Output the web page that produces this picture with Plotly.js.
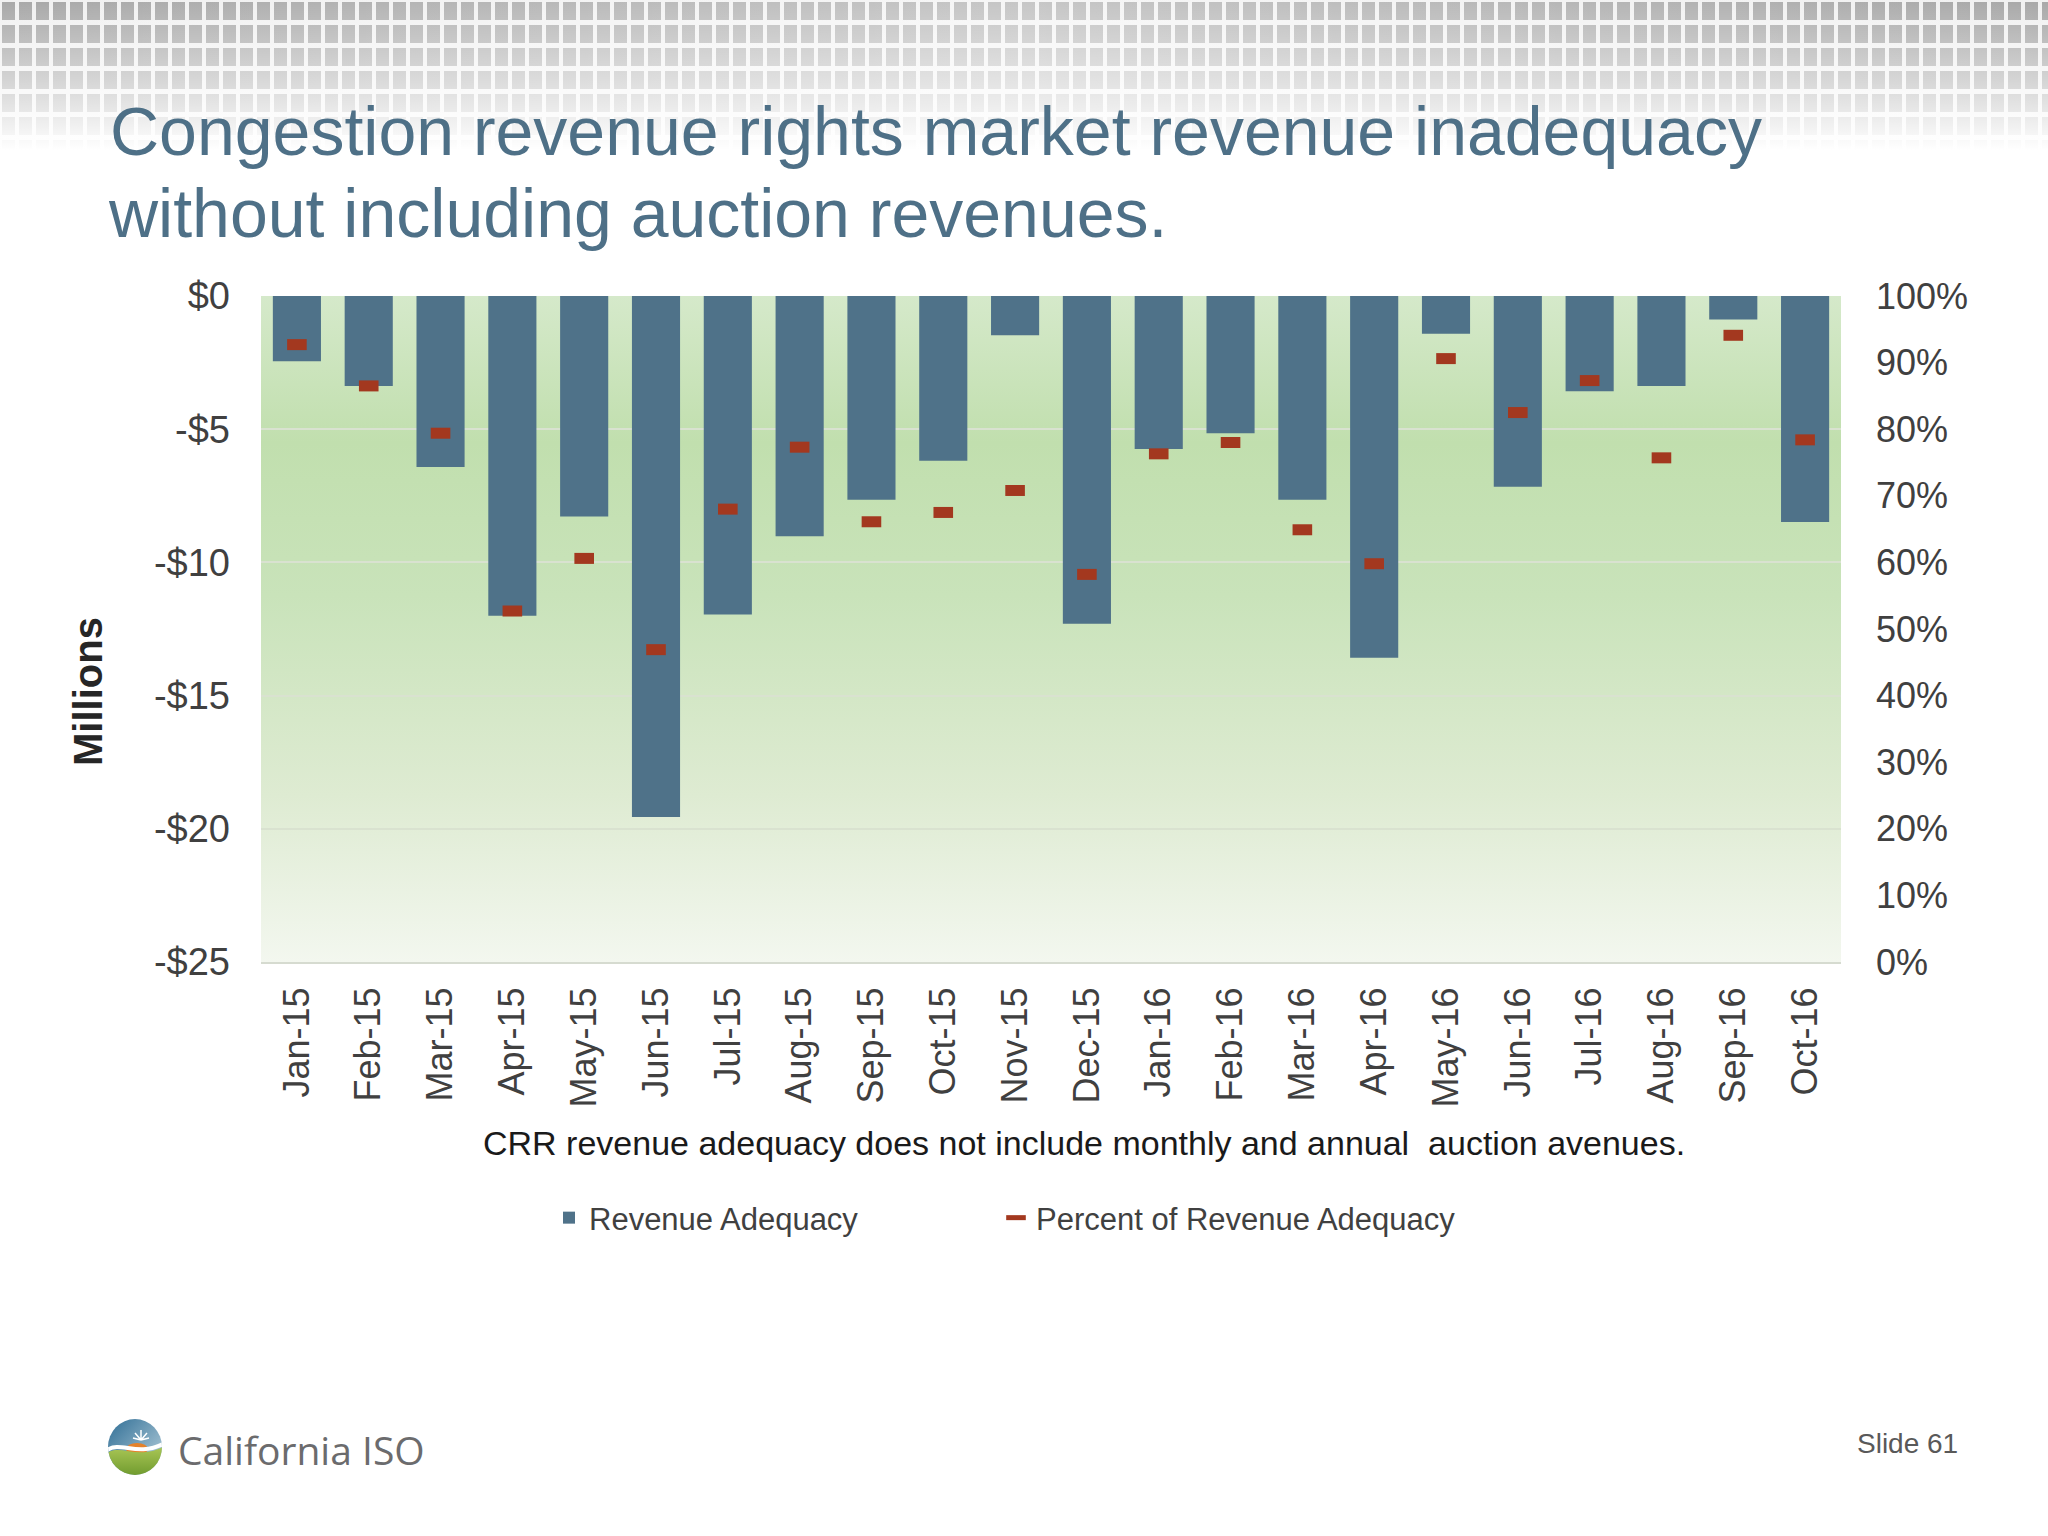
<!DOCTYPE html>
<html>
<head>
<meta charset="utf-8">
<script src="https://cdn.plot.ly/plotly-3.0.1.min.js"></script>
<style>html,body{margin:0;padding:0;background:#fff;}#chart{width:2048px;height:1536px;}</style>
</head>
<body>
<div id="chart"></div>
<script>
// ---- Data ----
var months = ['Jan-15','Feb-15','Mar-15','Apr-15','May-15','Jun-15','Jul-15','Aug-15','Sep-15','Oct-15','Nov-15','Dec-15',
              'Jan-16','Feb-16','Mar-16','Apr-16','May-16','Jun-16','Jul-16','Aug-16','Sep-16','Oct-16'];
// Revenue adequacy, $ millions
var revenueAdequacy = [-2.45,-3.38,-6.42,-12.0,-8.28,-19.56,-11.96,-9.02,-7.65,-6.18,-1.47,-12.3,
                       -5.74,-5.15,-7.65,-13.58,-1.42,-7.16,-3.58,-3.38,-0.88,-8.48];
// Percent of revenue adequacy, %
var percentAdequacy = [92.7,86.5,79.4,52.7,60.6,46.9,68.0,77.3,66.1,67.5,70.8,58.2,
                       76.3,78.0,64.9,59.8,90.6,82.5,87.3,75.7,94.1,78.4];
var leftTickVals = [0,-5,-10,-15,-20,-25];
var leftTickText = ['$0','-$5','-$10','-$15','-$20','-$25'];
var rightTickVals = [0,0.1,0.2,0.3,0.4,0.5,0.6,0.7,0.8,0.9,1.0];

var FONT = 'Liberation Sans, Arial, Helvetica, sans-serif';

function svgUri(s){ return 'data:image/svg+xml;charset=utf-8,' + encodeURIComponent(s); }

var bgSvg = "<svg xmlns='http://www.w3.org/2000/svg' width='100' height='100' viewBox='0 0 100 100' preserveAspectRatio='none'>" +
  "<defs><linearGradient id='g' x1='0' y1='0' x2='0' y2='1'>" +
  "<stop offset='0' stop-color='#d5e9ca'/><stop offset='0.22' stop-color='#c1dfae'/>" +
  "<stop offset='0.45' stop-color='#c9e3ba'/><stop offset='0.75' stop-color='#deebd2'/>" +
  "<stop offset='1' stop-color='#f3f7ef'/></linearGradient></defs>" +
  "<rect width='100' height='100' fill='url(#g)'/></svg>";

var headerSvg = "<svg xmlns='http://www.w3.org/2000/svg' width='2048' height='150' viewBox='0 0 2048 150' preserveAspectRatio='none'>" +
  "<defs><pattern id='p' width='17' height='23' patternUnits='userSpaceOnUse'>" +
  "<rect x='2' y='2' width='13' height='18' fill='#a3a3a3'/></pattern>" +
  "<linearGradient id='f' x1='0' y1='0' x2='0' y2='1'><stop offset='0' stop-color='#fff' stop-opacity='0.05'/>" +
  "<stop offset='0.55' stop-color='#fff' stop-opacity='0.55'/><stop offset='1' stop-color='#fff' stop-opacity='1'/></linearGradient>" +
  "<linearGradient id='h' x1='0' y1='0' x2='1' y2='0'><stop offset='0' stop-color='#fff' stop-opacity='0'/>" +
  "<stop offset='0.5' stop-color='#fff' stop-opacity='0.35'/><stop offset='1' stop-color='#fff' stop-opacity='0'/></linearGradient></defs>" +
  "<rect width='2048' height='150' fill='#f0f0f0'/>" +
  "<rect width='2048' height='150' fill='url(#p)'/>" +
  "<rect width='2048' height='150' fill='url(#h)'/>" +
  "<rect width='2048' height='150' fill='url(#f)'/></svg>";

var logoSvg = "<svg xmlns='http://www.w3.org/2000/svg' width='56' height='58' viewBox='0 0 56 58'>" +
  "<defs><clipPath id='c'><ellipse cx='28' cy='29' rx='27' ry='28'/></clipPath>" +
  "<linearGradient id='b' x1='0' y1='0' x2='1' y2='1'><stop offset='0' stop-color='#2d6c94'/><stop offset='1' stop-color='#c3d9e3'/></linearGradient>" +
  "<linearGradient id='gr' x1='0' y1='0' x2='0' y2='1'><stop offset='0' stop-color='#a9c655'/><stop offset='1' stop-color='#6f9a2e'/></linearGradient></defs>" +
  "<g clip-path='url(#c)'><rect width='56' height='58' fill='url(#b)'/>" +
  "<ellipse cx='30' cy='31' rx='11' ry='6' fill='#e5822b'/>" +
  "<path d='M0,35 C14,26 30,42 56,29 L56,58 L0,58 Z' fill='url(#gr)'/>" +
  "<path d='M0,32 C14,23 30,39 56,26' stroke='#fff' stroke-width='4' fill='none'/>" +
  "<path d='M34,22 L34,12 M34,22 L40,15 M34,22 L28,15 M34,22 L42,20 M34,22 L26,20' stroke='#fff' stroke-width='1.5'/></g></svg>";

// plot area in px: left 261, right 1841, top 296, bottom 962
function px2x(px){ return (px - 261) / 1580; }
function px2y(py){ return (962 - py) / 666; }

var traces = [
  {
    type: 'bar', name: 'Revenue Adequacy', x: months, y: revenueAdequacy,
    marker: {color: '#4f7289', line: {width: 0}}, yaxis: 'y', xaxis: 'x',
    legend: 'legend',
    hovertemplate: '%{x}: $%{y}M<extra></extra>'
  },
  {
    type: 'scatter', mode: 'markers', name: 'Percent of Revenue Adequacy', x: months,
    y: percentAdequacy.map(function(v){ return v / 100; }),
    yaxis: 'y2', xaxis: 'x', legend: 'legend2',
    marker: {symbol: 'line-ew', size: 14, color: '#a3381f', line: {color: '#a3381f', width: 11}},
    hovertemplate: '%{x}: %{y:.0%}<extra></extra>'
  }
];

var legendStyle = function(xpx){
  return {
    orientation: 'h', x: px2x(xpx), xanchor: 'left', y: px2y(1218), yanchor: 'middle',
    xref: 'paper', yref: 'paper',
    font: {family: FONT, size: 31, color: '#404040'},
    bgcolor: 'rgba(0,0,0,0)', itemclick: false
  };
};

var layout = {
  width: 2048, height: 1536, autosize: false,
  paper_bgcolor: '#ffffff', plot_bgcolor: 'rgba(0,0,0,0)',
  margin: {l: 261, r: 207, t: 296, b: 574, pad: 0},
  font: {family: FONT, color: '#404040', size: 34},
  title: {
    text: 'Congestion revenue rights market revenue inadequacy',
    font: {family: FONT, size: 68, color: '#4e7087'},
    xref: 'container', yref: 'container', x: 110 / 2048, xanchor: 'left',
    y: 1 - 131 / 1536, yanchor: 'middle'
  },
  bargap: 0.33,
  showlegend: true,
  legend: legendStyle(549),
  legend2: legendStyle(996),
  xaxis: {
    type: 'category', range: [-0.5, months.length - 0.5], tickangle: -90, ticks: '',
    showgrid: false, zeroline: false,
    showline: true, linecolor: '#d6dbd0', linewidth: 2,
    tickfont: {family: FONT, size: 36, color: '#404040'},
    ticklabelstandoff: 9, fixedrange: true
  },
  yaxis: {
    range: [-25, 0], tickvals: leftTickVals, ticktext: leftTickText, ticks: '',
    showgrid: true, gridcolor: '#d9e2d0', gridwidth: 2, zeroline: false, showline: false,
    tickfont: {family: FONT, size: 38, color: '#404040'},
    ticklabelstandoff: 30, fixedrange: true
  },
  yaxis2: {
    overlaying: 'y', side: 'right', range: [0, 1], tickvals: rightTickVals, tickformat: '.0%',
    showgrid: false, zeroline: false, showline: false, ticks: '',
    tickfont: {family: FONT, size: 36, color: '#404040'},
    ticklabelstandoff: 34, fixedrange: true
  },
  images: [
    {source: svgUri(bgSvg), xref: 'paper', yref: 'paper', x: 0, y: 1, sizex: 1, sizey: 1,
     sizing: 'stretch', layer: 'below', xanchor: 'left', yanchor: 'top'},
    {source: svgUri(headerSvg), xref: 'paper', yref: 'paper', x: px2x(0), y: px2y(0),
     sizex: 2048 / 1580, sizey: 150 / 666, sizing: 'stretch', layer: 'below', xanchor: 'left', yanchor: 'top'},
    {source: svgUri(logoSvg), xref: 'paper', yref: 'paper', x: px2x(107), y: px2y(1418),
     sizex: 56 / 1580, sizey: 58 / 666, sizing: 'stretch', layer: 'above', xanchor: 'left', yanchor: 'top'}
  ],
  annotations: [
    {text: 'without including auction revenues.', xref: 'paper', yref: 'paper',
     x: px2x(106), y: px2y(213), xanchor: 'left', yanchor: 'middle', showarrow: false,
     font: {family: FONT, size: 68, color: '#4e7087'}},
    {text: '<b>Millions</b>', textangle: -90, xref: 'paper', yref: 'paper', x: px2x(88), y: px2y(692),
     xanchor: 'center', yanchor: 'middle', showarrow: false,
     font: {family: FONT, size: 40, color: '#262626'}},
    {text: 'CRR revenue adequacy does not include monthly and annual \u00a0auction avenues.',
     xref: 'paper', yref: 'paper', x: px2x(1084), y: px2y(1143), xanchor: 'center', yanchor: 'middle',
     showarrow: false, font: {family: FONT, size: 34, color: '#1a1a1a'}},
    {text: 'California ISO', xref: 'paper', yref: 'paper', x: px2x(176), y: px2y(1449),
     xanchor: 'left', yanchor: 'middle', showarrow: false,
     font: {family: 'Open Sans, Lato, sans-serif', size: 39, color: '#6b6b6d'}},
    {text: 'Slide 61', xref: 'paper', yref: 'paper', x: px2x(1907), y: px2y(1443),
     xanchor: 'center', yanchor: 'middle', showarrow: false,
     font: {family: FONT, size: 28, color: '#595959'}}
  ]
};

Plotly.newPlot('chart', traces, layout, {displayModeBar: false, staticPlot: true});
</script>
</body>
</html>
